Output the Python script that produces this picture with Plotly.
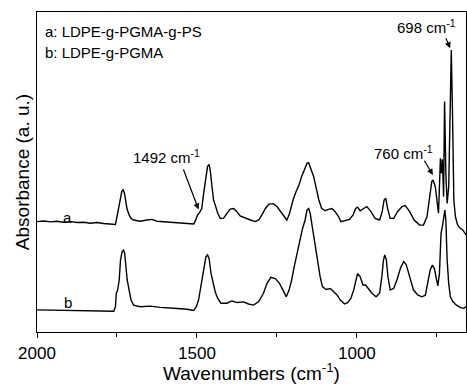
import plotly.graph_objects as go

# Trace a: LDPE-g-PGMA-g-PS  (wavenumber cm-1, absorbance a.u.)
wn_a = [2000, 1979, 1958, 1938, 1917, 1896, 1875, 1854, 1833, 1812, 1792, 1771, 1755,
        1752, 1748, 1742, 1735, 1731, 1727, 1723, 1719, 1712, 1706, 1698, 1677, 1656,
        1641, 1625, 1594, 1562, 1531, 1510, 1505, 1498, 1492, 1485, 1479, 1473, 1467,
        1462, 1458, 1453, 1448, 1442, 1435, 1427, 1417, 1406, 1396, 1385, 1375, 1365,
        1349, 1333, 1318, 1307, 1297, 1286, 1276, 1262, 1250, 1237, 1227, 1219, 1212,
        1206, 1198, 1190, 1181, 1173, 1165, 1156, 1151, 1144, 1135, 1127, 1119, 1110,
        1099, 1089, 1078, 1068, 1057, 1050, 1036, 1023, 1012, 1004, 998, 990, 979, 969,
        956, 943, 929, 921, 915, 910, 904, 896, 885, 873, 859, 849, 835, 821, 804, 792,
        781, 773, 766, 762, 755, 750, 745, 742, 739, 736, 733, 729, 726, 722, 718, 713,
        708, 705, 701, 697, 692, 685, 677, 669, 662, 658]
abs_a = [34.5, 34.7, 34.4, 34.6, 34.3, 34.5, 34.2, 34.3, 34.0, 34.2, 33.9, 33.75, 33.6,
         35.0, 37.1, 41.25, 43.9, 44.4, 43.5, 41.25, 38.6, 36.6, 35.5, 35.0, 34.6, 35.0,
         35.2, 34.6, 34.4, 34.2, 34.0, 33.75, 34.8, 36.6, 37.3, 38.6, 43.3, 48.5, 51.7,
         52.4, 50.1, 45.4, 41.25, 39.4, 37.1, 35.5, 35.5, 37.1, 38.4, 38.6, 37.6, 36.25,
         35.5, 35.0, 34.5, 35.0, 36.6, 38.6, 39.9, 40.1, 39.2, 37.3, 36.0, 35.0, 36.6,
         39.2, 41.8, 43.9, 45.9, 48.5, 50.6, 52.7, 52.9, 51.1, 48.5, 44.9, 41.25, 38.6,
         37.9, 38.3, 38.6, 37.6, 36.0, 34.5, 34.8, 35.2, 36.6, 38.6, 39.0, 37.9, 38.6, 39.2,
         37.6, 35.5, 35.0, 37.6, 41.25, 41.8, 38.6, 35.5, 35.5, 37.6, 39.2, 39.5, 37.6, 35.0,
         33.4, 33.4, 36.0, 41.25, 47.0, 47.5, 45.4, 41.25, 37.1, 45.4, 54.3, 49.6, 54.0,
         42.3, 72.0, 49.6, 40.2, 45.4, 72.5, 88.1, 67.3, 41.25, 36.0, 33.4, 32.4, 31.9,
         30.8, 30.3]

# Trace b: LDPE-g-PGMA
wn_b = [2000, 1958, 1906, 1854, 1802, 1760, 1755, 1752, 1748, 1743, 1739, 1734, 1730,
        1726, 1722, 1718, 1712, 1706, 1698, 1677, 1646, 1615, 1573, 1531, 1510, 1502,
        1495, 1490, 1483, 1477, 1472, 1467, 1462, 1456, 1450, 1443, 1435, 1425, 1406,
        1391, 1373, 1354, 1339, 1323, 1307, 1292, 1281, 1269, 1255, 1242, 1231, 1221,
        1212, 1204, 1196, 1187, 1179, 1171, 1162, 1156, 1151, 1146, 1138, 1130, 1122,
        1115, 1108, 1096, 1083, 1073, 1062, 1052, 1039, 1029, 1019, 1010, 1004, 998, 990,
        981, 973, 964, 953, 940, 929, 922, 917, 913, 908, 903, 896, 885, 875, 864, 854,
        846, 835, 823, 810, 797, 786, 778, 771, 764, 758, 752, 747, 742, 737, 733, 729,
        725, 722, 718, 713, 708, 700, 689, 677, 667, 658]
abs_b = [6.9, 6.8, 6.7, 6.6, 6.6, 6.5, 7.9, 12.1, 13.1, 16.25, 22.5, 25.1, 25.6,
         24.6, 20.4, 16.25, 13.1, 10.0, 8.4, 7.9, 8.1, 7.7, 7.4, 7.1, 6.7, 7.9,
         10.0, 13.1, 17.3, 21.5, 23.5, 24.1, 23.0, 18.3, 15.2, 12.6, 10.5, 9.0, 9.0,
         9.7, 9.2, 9.4, 8.75, 8.4, 9.5, 12.1, 15.2, 17.1, 16.7, 15.2, 13.1, 11.0,
         13.1, 16.25, 20.4, 24.6, 28.75, 31.9, 35.0, 38.1, 38.6, 37.1, 31.9, 26.7, 21.5,
         17.3, 14.2, 13.3, 13.6, 12.6, 11.6, 10.0, 8.75, 9.2, 10.5, 13.1, 16.25, 18.3, 17.3,
         14.7, 14.7, 13.6, 12.1, 11.0, 12.1, 17.3, 22.5, 24.1, 22.5, 17.3, 13.1, 13.6, 16.25,
         19.9, 22.0, 21.1, 17.3, 13.1, 11.6, 11.0, 11.5, 15.2, 19.4, 20.9, 19.9, 16.8, 14.4,
         18.3, 30.8, 32.9, 36.0, 38.1, 35.0, 22.5, 15.2, 11.0, 9.5, 8.4, 7.7, 7.4, 7.9]

x_ticks = [2000, 1500, 1000]
legend_lines = ["a: LDPE-g-PGMA-g-PS", "b: LDPE-g-PGMA"]

FONT = "Liberation Sans, Arial, sans-serif"

fig = go.Figure()
fig.add_trace(go.Scatter(x=wn_a, y=abs_a, mode="lines", line=dict(color="black", width=1.4),
                         showlegend=False, hoverinfo="skip"))
fig.add_trace(go.Scatter(x=wn_b, y=abs_b, mode="lines", line=dict(color="black", width=1.4),
                         showlegend=False, hoverinfo="skip"))

ann = []
ann.append(dict(xref="paper", yref="paper", x=0.015, y=0.94, xanchor="left", yanchor="middle",
                text=legend_lines[0], showarrow=False, font=dict(size=15, color="black")))
ann.append(dict(xref="paper", yref="paper", x=0.015, y=0.875, xanchor="left", yanchor="middle",
                text=legend_lines[1], showarrow=False, font=dict(size=15, color="black")))
ann.append(dict(x=1906, y=35.9, text="a", showarrow=False, font=dict(size=15, color="black")))
ann.append(dict(x=1903, y=9.1, text="b", showarrow=False, font=dict(size=15, color="black")))
ann.append(dict(x=1594, y=54.7, text="1492 cm<sup>-1</sup>", showarrow=False,
                font=dict(size=15, color="black")))
ann.append(dict(x=854, y=56.25, text="760 cm<sup>-1</sup>", showarrow=False,
                font=dict(size=15, color="black")))
ann.append(dict(x=783, y=95.6, text="698 cm<sup>-1</sup>", showarrow=False,
                font=dict(size=15, color="black")))
for tip, tail in [((1495, 38.3), (1544, 51.25)), ((762.5, 49.1), (792, 54.0)),
                  ((708.4, 88.7), (724, 92.3))]:
    ann.append(dict(x=tip[0], y=tip[1], ax=tail[0], ay=tail[1], axref="x", ayref="y",
                    text="", showarrow=True, arrowhead=2, arrowsize=1, arrowwidth=1.2,
                    arrowcolor="black"))

fig.update_layout(
    width=467, height=384,
    margin=dict(l=37, r=1, t=12, b=52),
    paper_bgcolor="white", plot_bgcolor="white",
    font=dict(family=FONT, color="black"),
    annotations=ann,
    xaxis=dict(range=[2000, 659], autorange=False, tickvals=x_ticks,
               ticktext=[str(v) for v in x_ticks], ticks="outside", ticklen=5, tickwidth=1.2,
               tickcolor="black", minor=dict(tickvals=[1750, 1250, 750], ticks="outside",
                                             ticklen=4, tickcolor="black", tickwidth=1.2),
               showline=True, linecolor="black", linewidth=1.3, mirror=True,
               showgrid=False, zeroline=False, tickfont=dict(size=17),
               title=dict(text="Wavenumbers (cm<sup>-1</sup>)", font=dict(size=19), standoff=1)),
    yaxis=dict(range=[0, 100], autorange=False, showticklabels=False, ticks="",
               showline=True, linecolor="black", linewidth=1.3, mirror=True,
               showgrid=False, zeroline=False,
               title=dict(text="Absorbance (a. u.)", font=dict(size=19), standoff=1)),
)

fig.write_html("out.html", config={"displayModeBar": False},
               post_script="document.body.style.margin='0';document.body.style.padding='0';"
                           "document.body.style.overflow='hidden';")
